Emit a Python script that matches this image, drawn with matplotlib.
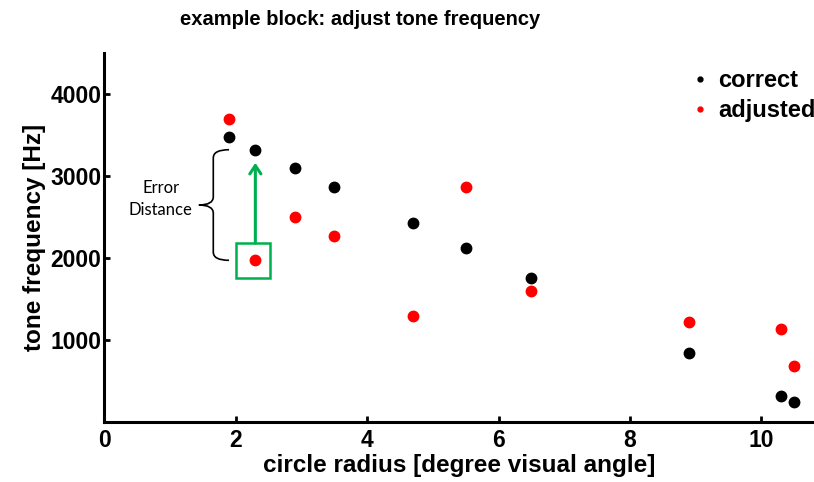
import matplotlib
matplotlib.use('Agg')
import matplotlib.pyplot as plt
from matplotlib.lines import Line2D
from matplotlib.path import Path
from matplotlib.patches import PathPatch, Rectangle

# circle radius [deg] and tone frequency [Hz]
radius = [1.9, 2.3, 2.9, 3.5, 4.7, 5.5, 6.5, 8.9, 10.3, 10.5]
correct = [3480, 3320, 3100, 2870, 2420, 2120, 1750, 840, 310, 240]
adjusted = [3700, 1970, 2500, 2270, 1290, 2870, 1595, 1220, 1130, 680]
x_ticks = [0, 2, 4, 6, 8, 10]
y_ticks = [1000, 2000, 3000, 4000]

plt.rcParams['font.family'] = ['Liberation Sans', 'DejaVu Sans']
plt.rcParams['font.weight'] = 'bold'

fig = plt.figure(figsize=(8.14, 4.82), dpi=100)
ax = fig.add_axes([0.128, 0.125, 0.872, 0.765])

ax.plot(radius, correct, 'o', color='black', markersize=7.5, zorder=3)
ax.plot(radius, adjusted, 'o', color='red', markersize=7.5, zorder=3)

ax.set_xlim(0, 10.8)
ax.set_ylim(0, 4500)
ax.set_xticks(x_ticks)
ax.set_yticks(y_ticks)
ax.spines['top'].set_visible(False)
ax.spines['right'].set_visible(False)
for side in ('left', 'bottom'):
    ax.spines[side].set_linewidth(2.2)
ax.tick_params(direction='in', length=4, width=2, labelsize=16.5)
ax.tick_params(axis='x', pad=5)
ax.tick_params(axis='y', pad=2)
for lab in ax.get_xticklabels() + ax.get_yticklabels():
    lab.set_fontweight('bold')

ax.set_xlabel('circle radius [degree visual angle]', fontsize=17.5,
              fontweight='bold', labelpad=2)
ax.set_ylabel('tone frequency [Hz]', fontsize=17.5, fontweight='bold',
              labelpad=3)
fig.text(0.442, 0.96, 'example block: adjust tone frequency',
         ha='center', va='center', fontsize=14.5, fontweight='bold')

handles = [Line2D([], [], marker='o', ls='none', color='black', markersize=3.5),
           Line2D([], [], marker='o', ls='none', color='red', markersize=3.5)]
ax.legend(handles, ['correct', 'adjusted'], loc='upper right',
          bbox_to_anchor=(1.015, 0.982), frameon=False, handlelength=0.5,
          handletextpad=0.5, labelspacing=0.3, borderaxespad=0.0,
          prop={'size': 17, 'weight': 'bold'})

# example of error distance
x0 = radius[1]
top, bot = correct[1], adjusted[1]
mid = (top + bot) / 2
xt, xl, xc = 1.9, 1.66, 1.44
verts = [(xt, top), (xl, top), (xl, top - 100), (xl, mid + 100),
         (xl, mid), (xc, mid), (xl, mid), (xl, mid - 100),
         (xl, bot + 100), (xl, bot), (xt, bot)]
codes = [Path.MOVETO, Path.CURVE3, Path.CURVE3, Path.LINETO,
         Path.CURVE3, Path.CURVE3, Path.CURVE3, Path.CURVE3,
         Path.LINETO, Path.CURVE3, Path.CURVE3]
ax.add_patch(PathPatch(Path(verts, codes), fill=False, lw=1.2,
                       color='black'))
ax.text(0.86, mid + 70, 'Error\nDistance', ha='center', va='center',
        fontsize=12, fontweight='normal', family=['Lato', 'DejaVu Sans'],
        linespacing=1.45)

green = '#00b050'
ax.add_patch(Rectangle((x0 - 0.3, bot - 220), 0.52, 430, fill=False,
                       lw=1.8, edgecolor=green, zorder=2))
ax.annotate('', xy=(x0, top - 160), xytext=(x0, bot + 210),
            arrowprops=dict(arrowstyle='->,head_length=0.6,head_width=0.4',
                            color=green, lw=2.2, shrinkA=0, shrinkB=0))

fig.savefig('out.png', dpi=100)
